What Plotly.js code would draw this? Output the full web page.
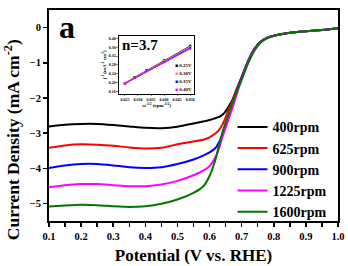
<!DOCTYPE html>
<html>
<head>
<meta charset="utf-8">
<script src="https://cdn.plot.ly/plotly-3.0.1.min.js"></script>
<style>html,body{margin:0;padding:0;background:#fff}#chart{width:348px;height:266px}</style>
</head>
<body>
<div id="chart"></div>
<script>
// ---- main LSV data ----
const potential = [0.10,0.15,0.20,0.25,0.30,0.35,0.40,0.45,0.50,0.55,0.58,0.60,0.62,0.63,0.64,0.65,0.66,0.67,0.68,0.69,0.70,0.72,0.74,0.76,0.78,0.80,0.84,0.88,0.92,0.96,1.00];
const j400  = [-2.81,-2.76,-2.74,-2.74,-2.77,-2.81,-2.85,-2.86,-2.82,-2.73,-2.67,-2.63,-2.57,-2.54,-2.48,-2.38,-2.24,-2.08,-1.85,-1.62,-1.40,-0.95,-0.60,-0.39,-0.29,-0.23,-0.16,-0.12,-0.09,-0.06,-0.02];
const j625  = [-3.42,-3.35,-3.32,-3.33,-3.36,-3.41,-3.44,-3.42,-3.32,-3.24,-3.19,-3.12,-3.00,-2.90,-2.76,-2.55,-2.32,-2.13,-1.88,-1.64,-1.41,-0.96,-0.61,-0.40,-0.29,-0.23,-0.16,-0.12,-0.09,-0.06,-0.02];
const j900  = [-3.99,-3.92,-3.88,-3.88,-3.92,-3.97,-3.99,-3.97,-3.88,-3.75,-3.64,-3.55,-3.41,-3.25,-3.05,-2.80,-2.52,-2.27,-1.98,-1.70,-1.44,-0.97,-0.62,-0.40,-0.29,-0.23,-0.16,-0.12,-0.09,-0.06,-0.02];
const j1225 = [-4.54,-4.48,-4.45,-4.45,-4.48,-4.51,-4.51,-4.46,-4.36,-4.20,-4.07,-3.94,-3.65,-3.42,-3.12,-2.85,-2.58,-2.32,-2.03,-1.74,-1.47,-0.99,-0.63,-0.41,-0.29,-0.23,-0.16,-0.12,-0.09,-0.06,-0.02];
const j1600 = [-5.09,-5.06,-5.04,-5.05,-5.08,-5.10,-5.08,-5.01,-4.89,-4.70,-4.52,-4.22,-3.70,-3.33,-2.98,-2.70,-2.45,-2.18,-1.95,-1.70,-1.48,-1.02,-0.65,-0.42,-0.30,-0.23,-0.16,-0.12,-0.09,-0.06,-0.02];
const seriesNames = ["400rpm","625rpm","900rpm","1225rpm","1600rpm"];
const seriesColors = ["#000000","#ff0000","#0000ff","#ff00ff","#007800"];
const seriesData = [j400,j625,j900,j1225,j1600];

// ---- inset K-L data ----
const omegaInv = [0.050,0.040,0.0333,0.0286,0.025];
const kl025 = [0.365,0.300,0.256,0.224,0.198];
const kl030 = [0.362,0.298,0.254,0.223,0.198];
const kl035 = [0.357,0.294,0.252,0.222,0.196];
const kl040 = [0.352,0.291,0.250,0.221,0.197];
const klNames = ["0.25V","0.30V","0.35V","0.40V"];
const klColors = ["#000000","#f08a8a","#0000ff","#ff00ff"];
const klSymbols = ["square","circle","triangle-up","triangle-down"];
const klData = [kl025,kl030,kl035,kl040];

const serif = "Liberation Serif, Times New Roman, serif";
const traces = [];
seriesData.forEach((d,i)=>{
  traces.push({x:potential,y:d,type:"scatter",mode:"lines",name:seriesNames[i],
    line:{color:seriesColors[i],width:2,shape:"spline",smoothing:0.6},xaxis:"x",yaxis:"y"});
});
klData.forEach((d,i)=>{
  traces.push({x:omegaInv,y:d,type:"scatter",mode:"lines+markers",name:klNames[i],showlegend:false,
    line:{color:klColors[i],width:1},marker:{color:klColors[i],size:2.5,symbol:klSymbols[i]},xaxis:"x2",yaxis:"y2"});
});

const annotations = [
  {text:"a",xref:"paper",yref:"paper",x:0.064,y:0.92,showarrow:false,xanchor:"center",yanchor:"middle",
   font:{family:serif,size:32,weight:700,color:"#000"}},
  {text:"Current Density (mA cm<sup>-2</sup>)",xref:"paper",yref:"paper",x:-0.13,y:0.385,showarrow:false,
   textangle:-90,xanchor:"center",yanchor:"middle",font:{family:serif,size:17.5,weight:700,color:"#000"}},
  {text:"n=3.7",xref:"x2 domain",yref:"y2 domain",x:0.01,y:0.84,showarrow:false,xanchor:"left",yanchor:"middle",
   font:{family:serif,size:15,weight:700,color:"#000"}}
];
klNames.forEach((n,i)=>{
  annotations.push({text:"<span style='color:"+klColors[i]+"'>■</span> "+n,xref:"x2 domain",yref:"y2 domain",
    x:0.72,y:0.49-i*0.14,showarrow:false,xanchor:"left",yanchor:"middle",
    font:{family:serif,size:5,weight:700,color:"#000"}});
});

const layout = {
  width:348,height:266,
  margin:{l:49,r:10,t:10,b:45},
  paper_bgcolor:"#fff",plot_bgcolor:"#fff",
  showlegend:true,
  legend:{x:0.635,y:0.52,xanchor:"left",yanchor:"top",bgcolor:"rgba(0,0,0,0)",
    font:{family:serif,size:14,weight:700,color:"#000"},tracegroupgap:0},
  xaxis:{range:[0.1,1.0],tick0:0.1,dtick:0.1,ticks:"outside",ticklen:4,tickwidth:1.5,tickcolor:"#000",
    showline:true,linewidth:2,linecolor:"#000",mirror:true,showgrid:false,zeroline:false,
    tickformat:".1f",tickfont:{family:serif,size:10.5,weight:700,color:"#000"},
    minor:{dtick:0.05,tick0:0.1,ticks:"outside",ticklen:4,tickwidth:1.5,tickcolor:"#000",showgrid:false},
    title:{text:"Potential (V vs. RHE)",standoff:9,font:{family:serif,size:17,weight:700,color:"#000"}}},
  yaxis:{range:[-5.5,0.5],dtick:1,ticks:"outside",ticklen:4,tickwidth:1.5,tickcolor:"#000",
    showline:true,linewidth:2,linecolor:"#000",mirror:true,showgrid:false,zeroline:false,
    tickfont:{family:serif,size:10.5,weight:700,color:"#000"}},
  xaxis2:{domain:[0.242,0.502],anchor:"y2",range:[0.0227,0.0515],dtick:0.005,tick0:0.025,tickformat:".3f",
    ticks:"outside",ticklen:1.5,tickwidth:0.5,tickcolor:"#000",showline:true,linewidth:1,linecolor:"#000",mirror:true,
    showgrid:false,zeroline:false,tickfont:{family:serif,size:4,weight:700,color:"#000"},
    title:{text:"ω<sup>-1/2</sup> (rpm<sup>-1/2</sup>)",standoff:1,font:{family:serif,size:5,weight:700,color:"#000"}}},
  yaxis2:{domain:[0.602,0.877],anchor:"x2",range:[0.15,0.41],dtick:0.04,tick0:0.16,tickformat:".2f",
    ticks:"outside",ticklen:1.5,tickwidth:0.5,tickcolor:"#000",showline:true,linewidth:1,linecolor:"#000",mirror:true,
    showgrid:false,zeroline:false,tickfont:{family:serif,size:4,weight:700,color:"#000"},
    title:{text:"j<sup>-1</sup> (mA<sup>-1</sup> cm<sup>2</sup>)",standoff:1,font:{family:serif,size:5,weight:700,color:"#000"}}},
  annotations:annotations
};
Plotly.newPlot("chart",traces,layout,{staticPlot:true,displayModeBar:false});
</script>
</body>
</html>
